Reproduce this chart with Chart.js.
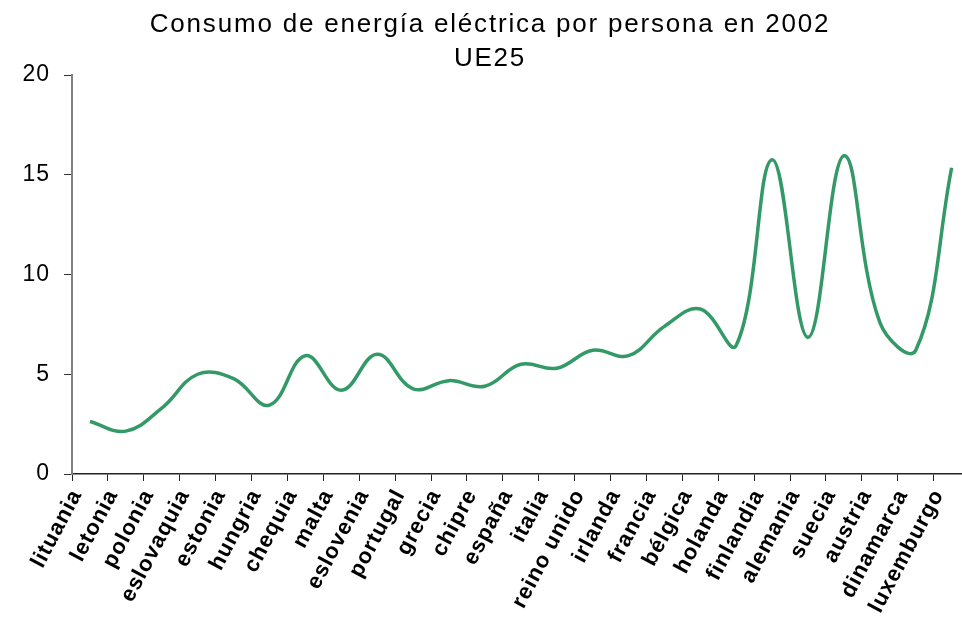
<!DOCTYPE html>
<html>
<head>
<meta charset="utf-8">
<script src="https://cdn.jsdelivr.net/npm/chart.js@4"></script>
<style>
  html, body { margin: 0; padding: 0; overflow: hidden; background: #fff; }
  #wrap { width: 979px; height: 619px; }
</style>
</head>
<body>
<div id="wrap"><canvas id="myChart"></canvas></div>
<script>
const paises = ['lituania', 'letonia', 'polonia', 'eslovaquia', 'estonia', 'hungria', 'chequia', 'malta',
  'eslovenia', 'portugal', 'grecia', 'chipre', 'españa', 'italia', 'reino unido', 'irlanda', 'francia',
  'bélgica', 'holanda', 'finlandia', 'alemania', 'suecia', 'austria', 'dinamarca', 'luxemburgo'];
const consumo = [2.63, 2.15, 3.3, 5.0, 4.78, 3.45, 5.93, 4.2, 6.0, 4.27, 4.68, 4.4, 5.5, 5.3, 6.2, 5.93,
  7.4, 8.27, 6.45, 15.75, 6.85, 15.95, 7.6, 6.2, 15.35];
const yTicks = [0, 5, 10, 15, 20];
const titulo = ['Consumo de energía eléctrica por persona en 2002', 'UE25'];

const fuente = 'Arial, "Liberation Sans", sans-serif';

// espaciado de letras como en el original + titulo
const espaciado = {
  id: 'espaciado',
  beforeDraw(chart) {
    chart.ctx.letterSpacing = '1px';
  },
  afterDraw(chart) {
    const ctx = chart.ctx;
    ctx.letterSpacing = '0px';
    ctx.save();
    ctx.font = '26px ' + fuente;
    ctx.letterSpacing = '1.8px';
    ctx.fillStyle = '#000';
    ctx.textAlign = 'center';
    ctx.textBaseline = 'alphabetic';
    ctx.fillText(titulo[0], 490, 32);
    ctx.fillText(titulo[1], 490, 66);
    ctx.restore();
  }
};

const grOne = document.getElementById('myChart');

new Chart(grOne, {
  type: 'line',
  data: {
    labels: paises,
    datasets: [{
      data: consumo,
      borderColor: '#339966',
      borderWidth: 3.5,
      pointRadius: 0,
      tension: 0.4,
      fill: false
    }]
  },
  options: {
    responsive: true,
    maintainAspectRatio: false,
    animation: false,
    layout: {
      padding: { top: 75, right: 2, left: 0, bottom: 0 }
    },
    plugins: {
      legend: { display: false },
      tooltip: { enabled: false }
    },
    scales: {
      x: {
        offset: true,
        grid: {
          offset: true,
          drawOnChartArea: false,
          drawTicks: true,
          tickLength: 7,
          color: '#222'
        },
        border: { color: '#222', width: 1.5 },
        ticks: {
          autoSkip: false,
          maxRotation: 62,
          minRotation: 62,
          padding: 4,
          labelOffset: -13,
          color: '#000',
          font: { family: fuente, size: 22, weight: 'bold' }
        },
        afterFit: (s) => { s.height = 145; }
      },
      y: {
        min: 0,
        max: 20,
        afterBuildTicks: (s) => { s.ticks = yTicks.map(v => ({ value: v })); },
        grid: {
          drawOnChartArea: false,
          drawTicks: true,
          tickLength: 8,
          color: '#333'
        },
        border: { color: '#808080', width: 2 },
        ticks: {
          padding: 14,
          color: '#000',
          font: { family: fuente, size: 23 }
        },
        afterFit: (s) => { s.width = 72; }
      }
    }
  },
  plugins: [espaciado]
});
</script>
</body>
</html>
